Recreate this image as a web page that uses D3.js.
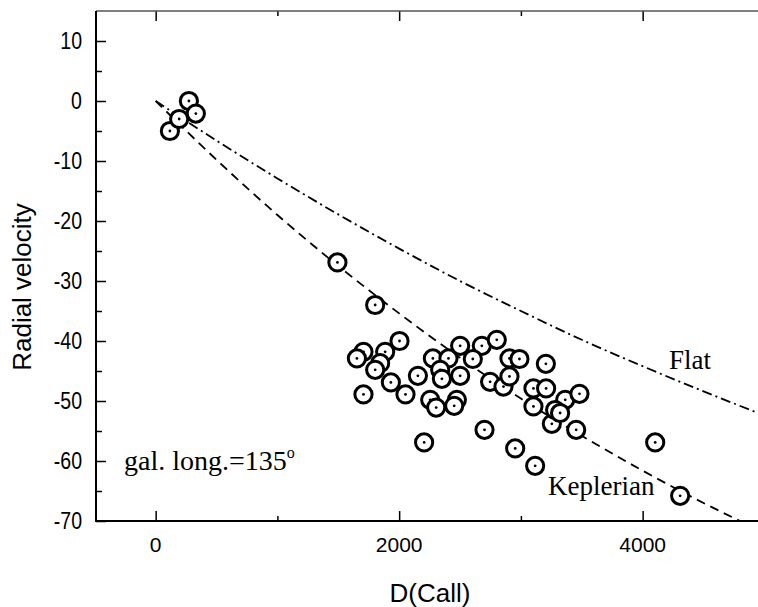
<!DOCTYPE html>
<html>
<head>
<meta charset="utf-8">
<script src="https://cdn.jsdelivr.net/npm/d3@7"></script>
<style>
  html, body { margin: 0; padding: 0; background: #fff; }
  svg { display: block; }
</style>
</head>
<body>
<div id="chart"></div>
<script>
/* ── data ─────────────────────────────────────────────────────────── */
const distance = [117, 193, 273, 330, 1493, 1803, 2003, 1707, 1653, 1885,
  1844, 1803, 1932, 1707, 2052, 2154, 2277, 2405, 2501, 2679,
  2802, 2605, 2337, 2351, 2501, 2255, 2304, 2474, 2452, 2747,
  2857, 2906, 2988, 2906, 3205, 3103, 3207, 3103, 3254, 2205,
  2701, 2953, 3117, 3364, 3481, 3281, 3322, 3454, 4103, 4308];
const velocity = [-5, -3, 0, -2.1, -26.9, -34, -40, -41.8, -42.9, -41.8,
  -43.7, -44.8, -46.9, -48.9, -48.9, -45.8, -42.9, -42.9, -40.8, -40.8,
  -39.8, -43, -44.8, -46.3, -45.8, -49.8, -51.1, -49.8, -50.8, -46.8,
  -47.6, -42.9, -43, -45.9, -43.8, -47.9, -47.9, -50.9, -53.8, -56.9,
  -54.8, -57.9, -60.8, -49.8, -48.8, -51.5, -52, -54.8, -56.9, -65.8];

const curveD      = [0, 500, 1000, 1500, 2000, 2500, 3000, 3500, 4000, 4500, 5000];
const flatV       = [0, -6.6, -12.9, -18.9, -24.6, -30.0, -35.0, -39.8, -44.2, -48.4, -52.4];
const keplerD     = [0, 500, 1000, 1500, 2000, 2500, 3000, 3500, 4000, 4500, 4800];
const keplerV     = [0, -9.8, -19.0, -27.5, -35.4, -42.8, -49.6, -55.8, -61.6, -67.0, -70.0];

const xMajor = [0, 2000, 4000];
const xMinor = [1000, 3000];
const yMajor = [10, 0, -10, -20, -30, -40, -50, -60, -70];
const yMinor = [5, -5, -15, -25, -35, -45, -55, -65];

/* ── layout ───────────────────────────────────────────────────────── */
const W = 758, H = 607;
const SANS = 'Liberation Sans, Arial, sans-serif';
const SERIF = 'Liberation Serif, Times New Roman, serif';

const x = d3.scaleLinear().domain([-490, 5000]).range([96, 764.4]);
const y = d3.scaleLinear().domain([-70, 15]).range([521, 11]);

const svg = d3.select('#chart').append('svg')
  .attr('width', W).attr('height', H).attr('viewBox', `0 0 ${W} ${H}`);

/* model curves */
const line = d3.line().x(d => x(d[0])).y(d => y(d[1])).curve(d3.curveMonotoneX);

svg.append('path')
  .datum(curveD.map((d, i) => [d, flatV[i]]))
  .attr('d', line).attr('fill', 'none')
  .attr('stroke', '#000').attr('stroke-width', 1.8)
  .attr('stroke-dasharray', '10,4,2,4');

svg.append('path')
  .datum(keplerD.map((d, i) => [d, keplerV[i]]))
  .attr('d', line).attr('fill', 'none')
  .attr('stroke', '#000').attr('stroke-width', 1.8)
  .attr('stroke-dasharray', '9,6');

/* data points: ring with a centre dot */
const pts = svg.append('g').selectAll('g')
  .data(distance.map((d, i) => ({ d, v: velocity[i] })))
  .join('g')
  .attr('transform', p => `translate(${x(p.d)},${y(p.v)})`);
pts.append('circle').attr('r', 8.6)
  .attr('fill', '#fff').attr('stroke', '#000').attr('stroke-width', 3);
pts.append('circle').attr('r', 1.4).attr('fill', '#000');

/* ── axes ─────────────────────────────────────────────────────────── */
function ticks(g, axis, vals, size) {
  g.append('g').call(axis.tickValues(vals).tickSize(size).tickFormat(''))
    .call(s => s.select('.domain').remove())
    .selectAll('line').attr('stroke-width', 1.5);
}

const axLeft = svg.append('g').attr('transform', `translate(${x(-490)},0)`);
ticks(axLeft, d3.axisRight(y), yMajor, 10);
ticks(axLeft, d3.axisRight(y), yMinor, 6);

const axBottom = svg.append('g').attr('transform', `translate(0,${y(-70)})`);
ticks(axBottom, d3.axisTop(x), xMajor, 10);
ticks(axBottom, d3.axisTop(x), xMinor, 5);

const axTop = svg.append('g').attr('transform', `translate(0,${y(15)})`);
ticks(axTop, d3.axisBottom(x), xMajor, 10);
ticks(axTop, d3.axisBottom(x), xMinor, 5);

/* y labels are set in a narrower face than the x labels */
svg.append('g').selectAll('text').data(yMajor).join('text')
  .attr('transform', d => `translate(82,${y(d) + 8.3}) scale(0.85,1)`)
  .attr('text-anchor', 'end')
  .attr('font-family', SANS).attr('font-size', 23)
  .text(d => d);

svg.append('g').selectAll('text').data(xMajor).join('text')
  .attr('x', d => x(d)).attr('y', 552)
  .attr('text-anchor', 'middle')
  .attr('font-family', SANS).attr('font-size', 21)
  .text(d => d);

/* frame lines */
svg.append('line').attr('x1', x(-490)).attr('x2', W).attr('y1', y(15)).attr('y2', y(15))
  .attr('stroke', '#555').attr('stroke-width', 1.6);
svg.append('line').attr('x1', x(-490)).attr('x2', W).attr('y1', y(-70)).attr('y2', y(-70))
  .attr('stroke', '#000').attr('stroke-width', 2);
svg.append('line').attr('x1', x(-490)).attr('x2', x(-490)).attr('y1', y(15)).attr('y2', y(-70) + 1)
  .attr('stroke', '#000').attr('stroke-width', 2);

/* axis titles */
svg.append('text')
  .attr('x', 430).attr('y', 602).attr('text-anchor', 'middle')
  .attr('font-family', SANS).attr('font-size', 26)
  .text('D(Call)');
svg.append('text')
  .attr('transform', 'translate(31,287) rotate(-90)')
  .attr('text-anchor', 'middle')
  .attr('font-family', SANS).attr('font-size', 26)
  .text('Radial velocity');

/* annotations */
const note = svg.append('text')
  .attr('x', 124).attr('y', 470)
  .attr('font-family', SERIF).attr('font-size', 28);
note.append('tspan').text('gal. long.=135');
note.append('tspan').attr('font-size', 16).attr('dy', -12).text('o');

svg.append('text').attr('x', 669).attr('y', 369)
  .attr('font-family', SERIF).attr('font-size', 27).text('Flat');
svg.append('text').attr('x', 548).attr('y', 495)
  .attr('font-family', SERIF).attr('font-size', 27).text('Keplerian');
</script>
</body>
</html>
